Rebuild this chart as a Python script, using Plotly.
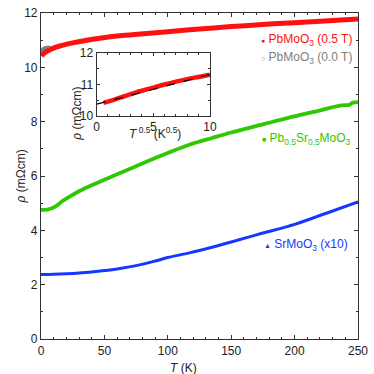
import numpy as np
import plotly.graph_objects as go

# PbMoO3, 0.5 T
red_T = [0.36, 1, 2.25, 4, 6.25, 9, 12.25, 16, 25, 36, 49, 64, 81, 100, 117, 150, 183, 217, 250]
red_rho = [10.41, 10.45, 10.51, 10.57, 10.63, 10.69, 10.75, 10.80, 10.90, 11.00, 11.09, 11.17, 11.24, 11.31,
           11.38, 11.50, 11.60, 11.69, 11.78]
# PbMoO3, 0.0 T (visible only at low T)
gray_T = [0.5, 1, 2, 3, 4, 6]
gray_rho = [10.55, 10.60, 10.64, 10.67, 10.69, 10.70]
# Pb0.5Sr0.5MoO3
green_T = [0, 5, 9, 13, 17, 22, 30, 40, 50, 60, 75, 90, 100, 117, 135, 150, 175, 195, 215, 237, 243, 246, 250]
green_rho = [4.75, 4.76, 4.82, 4.93, 5.08, 5.22, 5.44, 5.66, 5.86, 6.06, 6.36, 6.66, 6.85, 7.15, 7.40, 7.60,
             7.90, 8.14, 8.36, 8.60, 8.62, 8.70, 8.72]
# SrMoO3 (x10)
blue_T = [0, 10, 20, 30, 40, 50, 60, 75, 90, 100, 117, 135, 150, 175, 200, 225, 250]
blue_rho = [2.37, 2.38, 2.40, 2.43, 2.47, 2.52, 2.58, 2.70, 2.87, 3.00, 3.17, 3.38, 3.57, 3.90, 4.22, 4.63, 5.05]
# inset linear fit
fit_x = [0, 10]
fit_y = [10.37, 11.32]

RED = "#ff1010"
GRAY = "#808080"
GREEN = "#30c800"
BLUE = "#1438ff"
FONT = "Liberation Sans, Arial, sans-serif"

fig = go.Figure()
fig.add_trace(go.Scatter(x=gray_T, y=gray_rho, mode="markers",
                         marker=dict(symbol="circle-open", size=4, color=GRAY, line=dict(width=1.5)),
                         showlegend=False))
fig.add_trace(go.Scatter(x=red_T, y=red_rho, mode="lines", line=dict(color=RED, width=5, shape="spline"),
                         showlegend=False))
fig.add_trace(go.Scatter(x=green_T, y=green_rho, mode="lines", line=dict(color=GREEN, width=3.8, shape="spline"),
                         showlegend=False))
fig.add_trace(go.Scatter(x=blue_T, y=blue_rho, mode="lines", line=dict(color=BLUE, width=3, shape="spline"),
                         showlegend=False))

# inset
rT = np.array(red_T)
rR = np.array(red_rho)
m = rT <= 100
fig.add_trace(go.Scatter(x=np.sqrt(rT[m]), y=rR[m], mode="lines", xaxis="x2", yaxis="y2",
                         line=dict(color=RED, width=4.5, shape="spline"), showlegend=False))
fig.add_trace(go.Scatter(x=fit_x, y=fit_y, mode="lines", xaxis="x2", yaxis="y2",
                         line=dict(color="black", width=1.2, dash="dash"), showlegend=False))

axcol = "#333333"
tickfont = dict(family=FONT, size=12, color="#222")
fig.update_layout(
    width=374, height=374,
    margin=dict(l=41, r=14, t=6, b=35),
    paper_bgcolor="white", plot_bgcolor="white",
    font=dict(family=FONT, size=12, color="#222"),
    xaxis=dict(range=[0, 250], tickvals=[0, 50, 100, 150, 200, 250], ticks="inside", ticklen=4,
               showline=True, linecolor=axcol, linewidth=1.2, mirror="ticks", showgrid=False, zeroline=False,
               tickfont=tickfont, tickcolor=axcol,
               minor=dict(dtick=10, ticks="inside", ticklen=2, tickcolor=axcol, showgrid=False)),
    yaxis=dict(range=[0, 12], tickvals=[0, 2, 4, 6, 8, 10, 12], ticks="inside", ticklen=4,
               showline=True, linecolor=axcol, linewidth=1.2, mirror="ticks", showgrid=False, zeroline=False,
               tickfont=tickfont, tickcolor=axcol,
               minor=dict(dtick=1, ticks="inside", ticklen=2, tickcolor=axcol, showgrid=False)),
    xaxis2=dict(domain=[0.1755, 0.533], anchor="y2", range=[0, 10], tickvals=[0, 5, 10], ticks="inside",
                ticklen=3, showline=True, linecolor=axcol, linewidth=1.2, mirror="ticks", showgrid=False,
                zeroline=False, tickfont=tickfont, tickcolor=axcol,
                minor=dict(dtick=1, ticks="inside", ticklen=2, tickcolor=axcol, showgrid=False)),
    yaxis2=dict(domain=[0.6847, 0.8769], anchor="x2", range=[10, 12], tickvals=[10, 11, 12], ticks="inside",
                ticklen=3, showline=True, linecolor=axcol, linewidth=1.2, mirror="ticks", showgrid=False,
                zeroline=False, tickfont=tickfont, tickcolor=axcol,
                minor=dict(dtick=0.5, ticks="inside", ticklen=2, tickcolor=axcol, showgrid=False)),
)

lf = dict(family=FONT, size=12)
ann = [
    dict(x=172, y=11.0, xref="x", yref="y", xanchor="left", yanchor="middle", showarrow=False,
         text="<span style='font-size:7px'>●</span> PbMoO<sub>3</sub> (0.5 T)", font=dict(color=RED, **lf)),
    dict(x=172, y=10.34, xref="x", yref="y", xanchor="left", yanchor="middle", showarrow=False,
         text="<span style='font-size:7px'>○</span> PbMoO<sub>3</sub> (0.0 T)", font=dict(color=GRAY, **lf)),
    dict(x=173, y=7.35, xref="x", yref="y", xanchor="left", yanchor="middle", showarrow=False,
         text="<span style='font-size:7px'>■</span> Pb<sub>0.5</sub>Sr<sub>0.5</sub>MoO<sub>3</sub>",
         font=dict(color=GREEN, **lf)),
    dict(x=174, y=3.46, xref="x", yref="y", xanchor="left", yanchor="middle", showarrow=False,
         text="<span style='font-size:7px'>▲</span> SrMoO<sub>3</sub> (x10)", font=dict(color=BLUE, **lf)),
    dict(x=-0.09, y=0.5, xref="paper", yref="paper", showarrow=False, textangle=-90,
         text="<i>ρ</i> (mΩcm)", font=dict(family=FONT, size=12, color="#222")),
    dict(x=0.45, y=-0.062, xref="paper", yref="paper", showarrow=False, yanchor="top",
         text="<i>T</i> (K)", font=dict(family=FONT, size=12, color="#222")),
    dict(x=0.085, y=0.78, xref="paper", yref="paper", showarrow=False, textangle=-90,
         text="<i>ρ</i> (mΩcm)", font=dict(family=FONT, size=12, color="#222")),
    dict(x=0.36, y=0.632, xref="paper", yref="paper", showarrow=False, yanchor="middle",
         text="<i>T</i><sup> 0.5</sup> (K<sup>0.5</sup>)", font=dict(family=FONT, size=12, color="#222")),
]
fig.update_layout(annotations=ann)

fig.write_html("out.html", config={"displayModeBar": False},
               post_script="document.body.style.margin='0px';")
